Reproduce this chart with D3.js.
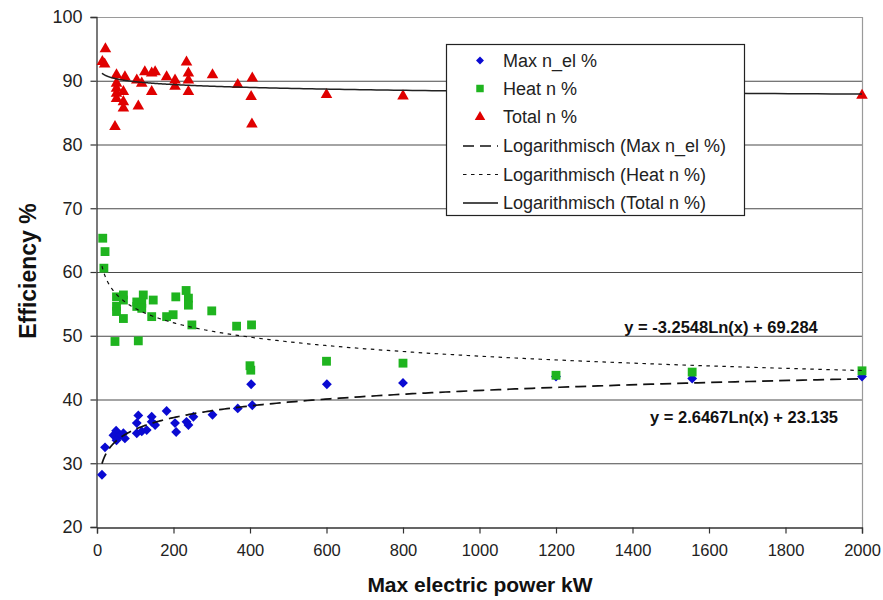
<!DOCTYPE html>
<html>
<head>
<meta charset="utf-8">
<script src="https://cdn.jsdelivr.net/npm/d3@7"></script>
<style>
  body { margin: 0; background: #fff; }
  text { font-family: "Liberation Sans", Arial, sans-serif; }
</style>
</head>
<body>
<div id="chart"></div>
<script>
// kW, efficiency %
var maxElX = [13, 21, 50, 43, 60, 69, 73, 51, 108, 104, 104, 117, 130, 143, 143, 152, 182, 204, 207, 234, 239, 252, 302, 368, 406, 403, 601, 800, 1200, 1556, 2000];
var maxElY = [28.2, 32.5, 35.1, 34.4, 34.4, 34.7, 33.9, 33.6, 37.5, 36.3, 34.7, 35.0, 35.2, 37.3, 36.5, 36.0, 38.2, 36.3, 34.9, 36.5, 36.0, 37.3, 37.6, 38.6, 39.1, 42.4, 42.4, 42.6, 43.6, 43.3, 43.6];

var heatX = [15, 21, 18, 47, 108, 51, 51, 51, 69, 69, 69, 104, 104, 121, 117, 117, 147, 143, 182, 199, 206, 233, 239, 239, 248, 300, 365, 404, 400, 402, 600, 800, 1200, 1556, 2000];
var heatY = [65.3, 63.2, 60.6, 49.1, 49.2, 56.1, 54.6, 53.8, 56.4, 55.6, 52.7, 55.3, 54.6, 56.4, 55.1, 54.3, 55.6, 53.0, 53.0, 53.3, 56.1, 57.1, 55.9, 54.8, 51.7, 53.9, 51.5, 51.7, 45.3, 44.6, 46.0, 45.7, 43.8, 44.3, 44.5];

var totalX = [14, 22, 20, 51, 73, 51, 51, 51, 51, 69, 69, 69, 47, 108, 104, 117, 125, 143, 152, 143, 182, 204, 204, 234, 239, 239, 239, 302, 368, 406, 403, 405, 600, 800, 2000];
var totalY = [93.0, 95.0, 92.6, 90.9, 90.6, 89.6, 88.8, 88.0, 87.2, 88.3, 86.7, 85.7, 82.8, 86.0, 90.1, 89.6, 91.4, 91.2, 91.4, 88.3, 90.6, 90.1, 89.1, 92.9, 91.2, 90.1, 88.3, 90.9, 89.4, 90.4, 87.5, 83.2, 87.8, 87.6, 87.7];

// log trendline coefficients y = a*ln(x) + b
var trendMaxEl = [2.6467, 23.135];
var trendHeat = [-3.2548, 69.284];
var trendTotal = [-0.65, 92.85];
var trendRange = [13, 2000];

var xTicks = [0, 200, 400, 600, 800, 1000, 1200, 1400, 1600, 1800, 2000];
var yTicks = [20, 30, 40, 50, 60, 70, 80, 90, 100];

var legendLabels = ["Max n_el %", "Heat n %", "Total n %",
  "Logarithmisch (Max n_el %)", "Logarithmisch (Heat n %)", "Logarithmisch (Total n %)"];

var blue = "#0a0ad2", green = "#1fb41f", red = "#e00000";

var W = 883, H = 600;
var svg = d3.select("#chart").append("svg").attr("width", W).attr("height", H);

var x = d3.scaleLinear().domain([0, 2000]).range([97, 862]);
var y = d3.scaleLinear().domain([20, 100]).range([527, 17]);

// gridlines
svg.append("g").selectAll("line").data(yTicks.filter(d => d > 20 && d < 100)).enter()
  .append("line")
  .attr("x1", x(0)).attr("x2", x(2000))
  .attr("y1", d => y(d) + 0.5).attr("y2", d => y(d) + 0.5)
  .attr("stroke", "#4a4a4a").attr("stroke-width", 1.2);

// frame top/right
svg.append("path")
  .attr("d", `M${x(0)},${y(100) + 0.5}H${x(2000) + 0.5}V${y(20)}`)
  .attr("fill", "none").attr("stroke", "#9a9a9a").attr("stroke-width", 1.2);

// axes
var gx = svg.append("g").attr("transform", `translate(0,${y(20) + 0.5})`)
  .call(d3.axisBottom(x).tickValues(xTicks).tickSize(6).tickPadding(9).tickFormat(d3.format("d")));
var gy = svg.append("g").attr("transform", `translate(${x(0) - 0.5},0)`)
  .call(d3.axisLeft(y).tickValues(yTicks).tickSize(6).tickPadding(8).tickFormat(d3.format("d")));
[gx, gy].forEach(g => {
  g.select(".domain").attr("stroke", "#333").attr("stroke-width", 1.3);
  g.selectAll(".tick line").attr("stroke", "#333").attr("stroke-width", 1.2);
  g.selectAll(".tick text").attr("fill", "#222")
    .style("font-family", "'Liberation Sans', Arial, sans-serif");
});
gy.selectAll(".tick text").style("font-size", "18px");
gx.selectAll(".tick text").style("font-size", "16.5px").attr("dy", "0.8em");

// axis titles
svg.append("text").attr("x", 480).attr("y", 592).attr("text-anchor", "middle")
  .style("font-size", "21px").style("font-weight", "bold").attr("fill", "#111")
  .text("Max electric power kW");
svg.append("text").attr("transform", "translate(36,271) rotate(-90)").attr("text-anchor", "middle")
  .style("font-size", "23px").style("font-weight", "bold").attr("fill", "#111")
  .text("Efficiency %");

// trendlines
function trendPoints(c) {
  var l0 = Math.log(trendRange[0]), l1 = Math.log(trendRange[1]);
  return d3.range(0, 1.0001, 0.004)
    .map(t => Math.exp(l0 + t * (l1 - l0)))
    .map(v => [v, c[0] * Math.log(v) + c[1]]);
}
var line = d3.line().x(d => x(d[0])).y(d => y(d[1]));

var plot = svg.append("g");

// markers
var diamond = d3.symbol().type(d3.symbolDiamond2).size(62);
var square = d3.symbol().type(d3.symbolSquare).size(78);
var triangle = d3.symbol().type(d3.symbolTriangle).size(58);

plot.selectAll(".tri").data(d3.zip(totalX, totalY)).enter().append("path")
  .attr("d", triangle).attr("fill", red)
  .attr("transform", d => `translate(${x(d[0])},${y(d[1])})`);
plot.selectAll(".dia").data(d3.zip(maxElX, maxElY)).enter().append("path")
  .attr("d", diamond).attr("fill", blue)
  .attr("transform", d => `translate(${x(d[0])},${y(d[1])})`);
plot.selectAll(".sq").data(d3.zip(heatX, heatY)).enter().append("path")
  .attr("d", square).attr("fill", green)
  .attr("transform", d => `translate(${x(d[0])},${y(d[1])})`);

plot.append("path").datum(trendPoints(trendMaxEl)).attr("d", line)
  .attr("fill", "none").attr("stroke", "#111").attr("stroke-width", 1.7).attr("stroke-dasharray", "11,6");
plot.append("path").datum(trendPoints(trendHeat)).attr("d", line)
  .attr("fill", "none").attr("stroke", "#111").attr("stroke-width", 1.2).attr("stroke-dasharray", "3.5,4.5");
plot.append("path").datum(trendPoints(trendTotal)).attr("d", line)
  .attr("fill", "none").attr("stroke", "#222").attr("stroke-width", 1.5);

// equations
svg.append("text").attr("x", 721).attr("y", 333).attr("text-anchor", "middle")
  .style("font-size", "16.5px").style("font-weight", "bold").attr("fill", "#111")
  .text("y = -3.2548Ln(x) + 69.284");
svg.append("text").attr("x", 744).attr("y", 423).attr("text-anchor", "middle")
  .style("font-size", "16.5px").style("font-weight", "bold").attr("fill", "#111")
  .text("y = 2.6467Ln(x) + 23.135");

// legend
var lg = svg.append("g");
lg.append("rect").attr("x", 446.5).attr("y", 44.5).attr("width", 298).attr("height", 171)
  .attr("fill", "#fff").attr("stroke", "#222").attr("stroke-width", 1.2);
var rowY = [60.5, 88.5, 117, 146, 174.5, 203];
var markerColors = [blue, green, red];
var markerTypes = [d3.symbolDiamond2, d3.symbolSquare, d3.symbolTriangle];
var markerSizes = [40, 56, 48];
var lineStyles = [["11,6", 1.7], ["3.5,4.5", 1.2], [null, 1.5]];
legendLabels.forEach((t, i) => {
  if (i < 3) {
    lg.append("path").attr("d", d3.symbol().type(markerTypes[i]).size(markerSizes[i]))
      .attr("fill", markerColors[i]).attr("transform", `translate(480,${rowY[i]})`);
  } else {
    var s = lineStyles[i - 3];
    lg.append("line").attr("x1", 463).attr("x2", 498).attr("y1", rowY[i]).attr("y2", rowY[i])
      .attr("stroke", "#111").attr("stroke-width", s[1]).attr("stroke-dasharray", s[0]);
  }
  lg.append("text").attr("x", 503).attr("y", rowY[i] + 6).style("font-size", "18px").attr("fill", "#222").text(t);
});
</script>
</body>
</html>
